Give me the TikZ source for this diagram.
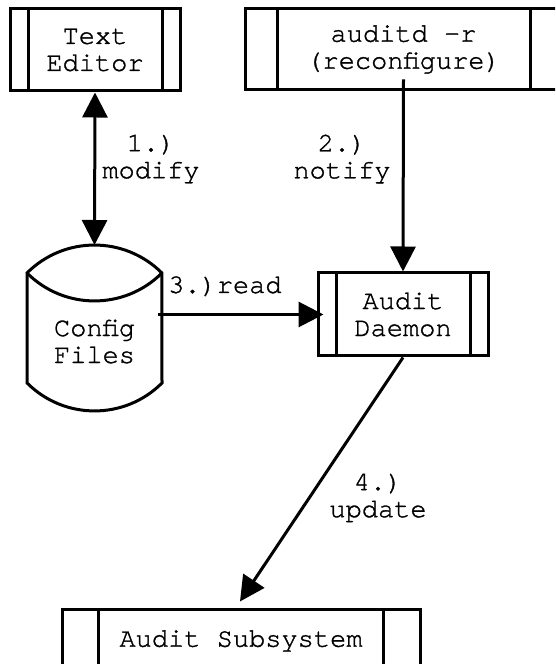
\documentclass[tikz,border=0pt]{standalone}
\usepackage{fontspec}
\newfontfamily\diagfont[FakeBold=1.2]{TeX Gyre Cursor}
\usetikzlibrary{arrows.meta,calc}

\tikzset{
  lbl/.style={font=\diagfont\fontsize{27}{27}\selectfont, align=center, inner sep=0pt},
  procbox/.style={lbl, draw, line width=3pt, rectangle,
    path picture={\draw[line width=3pt]
      ([xshift=#1]path picture bounding box.north west) -- ([xshift=#1]path picture bounding box.south west)
      ([xshift=-#1]path picture bounding box.north east) -- ([xshift=-#1]path picture bounding box.south east);}},
  flow/.style={line width=3pt, -{Triangle[length=25pt,width=25pt]}},
  bothflow/.style={line width=3pt, {Triangle[length=25pt,width=25pt]}-{Triangle[length=25pt,width=25pt]}},
}

\begin{document}
\begin{tikzpicture}[x=1pt,y=1pt]
\clip (0,0) rectangle (555,664);

% process boxes with double side bars
\node[procbox=18pt, minimum width=170pt, minimum height=82pt] (editor) at (95,614) {Text\\Editor};
\node[procbox=32pt, minimum width=317pt, minimum height=81pt] (auditd) at (403.5,614.5) {auditd -r\\(reconfigure)};
\node[procbox=18pt, minimum width=170pt, minimum height=83pt] (daemon) at (403,349.5) {Audit\\Daemon};
\node[procbox=36.5pt, minimum width=358pt, minimum height=62pt] (subsys) at (241,23) {Audit Subsystem};

% data store drawn as a cylinder around its label
\node[lbl, minimum width=135pt] (cfg) at (94.5,322.5) {Config\\Files};
\begin{scope}[shift={(cfg.center)}, line width=3pt]
  \draw (-67.5,68.5) arc[start angle=135, end angle=45, radius=95.4]
        -- (67.5,-41.5) arc[start angle=315, end angle=225, radius=95.4] -- cycle;
  \draw (-67.5,68.5) arc[start angle=225, end angle=315, radius=95.4];
  \coordinate (cfgtop) at (0,96.5);
  \coordinate (cfgout) at (63.5,27);
\end{scope}

% connectors
\draw[bothflow] (editor.south) -- (cfgtop);
\draw[flow] ($(auditd.south)+(0,12)$) -- (daemon.north);
\draw[flow] (cfgout) -- ($(daemon.west)+(7,0)$);
\draw[flow] (daemon.south) -- ($(subsys.north)+(-1,7)$);

% connector labels
\node[lbl] (l1) at (151,505) {1.)\\modify};
\node[lbl] (l2) at (342,505) {2.)\\notify};
\node[lbl, anchor=base west] (l3) at (168,371) {3.)read};
\node[lbl] (l4) at (378,166) {4.)\\update};
\end{tikzpicture}
\end{document}
